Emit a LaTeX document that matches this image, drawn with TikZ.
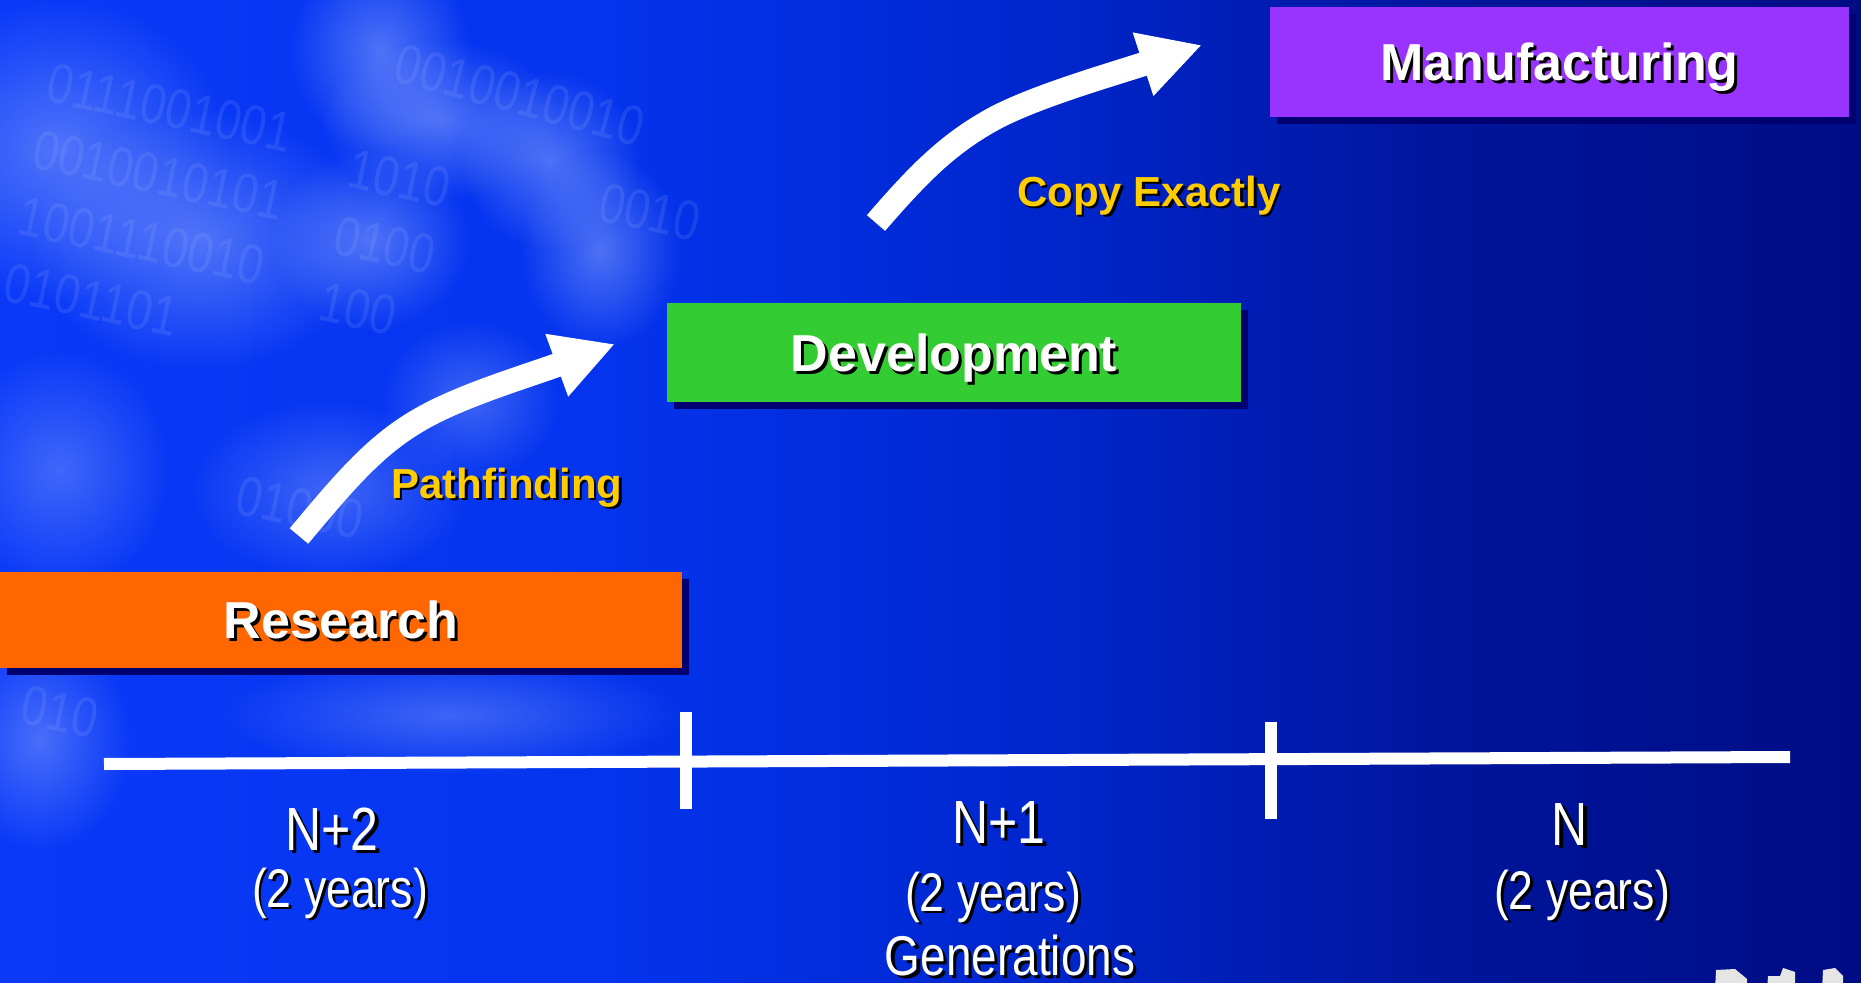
\documentclass[tikz,border=0pt]{standalone}
\usepackage{fontspec}
\setmainfont{Liberation Sans}
\newfontfamily\narrowfont[FakeStretch=0.82]{Liberation Sans}
\usetikzlibrary{arrows.meta,shadows,fadings}
\definecolor{bgA}{HTML}{0A3AF8}
\definecolor{bgB}{HTML}{0434EE}
\definecolor{bgC}{HTML}{0026CC}
\definecolor{bgD}{HTML}{00159C}
\definecolor{bgE}{HTML}{000C84}
\definecolor{resc}{HTML}{FF6600}
\definecolor{devc}{HTML}{33CC33}
\definecolor{manc}{HTML}{9933FF}
\definecolor{goldc}{HTML}{FFCC00}
\definecolor{navyc}{HTML}{000070}
\definecolor{glowc}{HTML}{A8BCFF}
\tikzfading[name=softfade, inner color=transparent!0, outer color=transparent!100]
\newcommand{\shadowed}[2]{\rlap{\kern0.055em\raisebox{-0.055em}{\color{black}#2}}{\color{#1}#2}}
\begin{document}
\begin{tikzpicture}[x=0.5pt,y=-0.5pt,
  stagebox/.style={rectangle, inner sep=0pt, text depth=0pt,
    font=\bfseries\fontsize{26}{30}\selectfont,
    drop shadow={shadow xshift=3.5pt, shadow yshift=-3.5pt, fill=navyc, opacity=1}},
  arrowlbl/.style={inner sep=0pt, text depth=0pt, font=\bfseries\fontsize{21}{25}\selectfont},
  genlbl/.style={inner sep=0pt, anchor=base, font=\narrowfont\fontsize{30.5}{36}\selectfont},
  yrslbl/.style={inner sep=0pt, anchor=base, font=\narrowfont\fontsize{27.2}{32}\selectfont},
  bigarrow/.style={draw=white, line width=12pt, line cap=butt, -{Triangle[length=31pt,width=31pt]}},
  axisline/.style={draw=white, line width=6pt},
  softblob/.style={fill=glowc, opacity=#1, path fading=softfade},
  softblob/.default=0.45,
  digits/.style={text=glowc, opacity=0.14, inner sep=0pt, font=\narrowfont\fontsize{28}{34}\selectfont}
]
\useasboundingbox (0,0) rectangle (1861,983);
% background
\shade[left color=bgA, right color=bgB] (0,0) rectangle (601,983);
\shade[left color=bgB, right color=bgC] (600,0) rectangle (1051,983);
\shade[left color=bgC, right color=bgD] (1050,0) rectangle (1451,983);
\shade[left color=bgD, right color=bgE] (1450,0) rectangle (1861,983);
\begin{scope}
\clip (0,0) rectangle (1861,983);
% light ribbons of the backdrop
\fill[softblob] (60,150) ellipse (170 and 150);
\fill[softblob] (200,240) ellipse (170 and 130);
\fill[softblob] (380,50) ellipse (90 and 100);
\fill[softblob] (440,120) ellipse (120 and 80);
\fill[softblob] (550,160) ellipse (90 and 90);
\fill[softblob] (600,250) ellipse (80 and 100);
\fill[softblob] (370,240) ellipse (100 and 90);
\fill[softblob=0.35] (60,470) ellipse (110 and 120);
\fill[softblob=0.35] (330,490) ellipse (140 and 90);
\fill[softblob=0.35] (470,400) ellipse (90 and 80);
\fill[softblob=0.35] (450,715) ellipse (230 and 60);
\fill[softblob=0.4] (40,740) ellipse (90 and 110);
% faint binary digits
\node[digits, rotate=-12, anchor=north west, align=left] (dleft) at (52,62) {0111001001\\0010010101\\1001110010\\0101101};
\node[digits, rotate=-15] (dtop) at (520,95) {0010010010};
\node[digits, rotate=-12, align=left] (dmid) at (385,245) {1010\\0100\\100};
\node[digits, rotate=-12] (dright) at (650,212) {0010};
\node[digits, rotate=-12] (dlow) at (300,508) {01000};
\node[digits, rotate=-12] (dcorner) at (60,712) {010};
\end{scope}
% stage boxes
\node[stagebox, fill=resc, minimum width=341pt, minimum height=48pt] (research) at (341,620) {\shadowed{white}{Research}};
\node[stagebox, fill=devc, minimum width=287pt, minimum height=49.5pt] (development) at (954,352.5) {\shadowed{white}{Development}};
\node[stagebox, fill=manc, minimum width=289.5pt, minimum height=55pt] (manufacturing) at (1559.5,62) {\shadowed{white}{Manufacturing}};
% arrows
\coordinate (a1s) at (299,536);
\coordinate (a1m) at (430,414);
\coordinate (a1e) at (615,344);
\coordinate (a2s) at (876,223);
\coordinate (a2m) at (997,117);
\coordinate (a2e) at (1202,45);
\draw[bigarrow] (a1s) .. controls (350,475) and (380,440) .. (a1m) .. controls (470,393) and (530,375) .. (a1e);
\draw[bigarrow] (a2s) .. controls (920,172) and (950,142) .. (a2m) .. controls (1040,95) and (1110,75) .. (a2e);
\node[arrowlbl] (pathlbl) at (507,483) {\shadowed{goldc}{Pathfinding}};
\node[arrowlbl] (copylbl) at (1149,191) {\shadowed{goldc}{Copy Exactly}};
% timeline
\coordinate (tl0) at (104,764);
\coordinate (tl1) at (1790,757);
\coordinate (t1a) at (686,712);
\coordinate (t1b) at (686,809);
\coordinate (t2a) at (1271,722);
\coordinate (t2b) at (1271,819);
\draw[axisline] (tl0) -- (tl1);
\draw[axisline] (t1a) -- (t1b);
\draw[axisline] (t2a) -- (t2b);
\node[genlbl] (g2) at (332,850) {\shadowed{white}{N+2}};
\node[yrslbl] (y2) at (340,907) {\shadowed{white}{(2 years)}};
\node[genlbl] (g1) at (999,843) {\shadowed{white}{N+1}};
\node[yrslbl] (y1) at (993,911) {\shadowed{white}{(2 years)}};
\node[genlbl] (g0) at (1570,845) {\shadowed{white}{N}};
\node[yrslbl] (y0) at (1582,909) {\shadowed{white}{(2 years)}};
\node[genlbl, font=\narrowfont\fontsize{28}{32}\selectfont] (gens) at (1010,975) {\shadowed{white}{Generations}};
% partial icons at the bottom edge
\begin{scope}
\clip (0,0) rectangle (1861,983);
\fill[gray!20] (1715,990) -- (1716,970) -- (1735,969) -- (1747,979) -- (1747,990) -- cycle;
\fill[gray!20] (1767,990) -- (1768,976) -- (1780,976) -- (1783,968) -- (1795,972) -- (1795,990) -- cycle;
\fill[gray!20] (1822,990) -- (1823,970) -- (1835,968) -- (1843,976) -- (1843,990) -- cycle;
\end{scope}
\end{tikzpicture}
\end{document}
